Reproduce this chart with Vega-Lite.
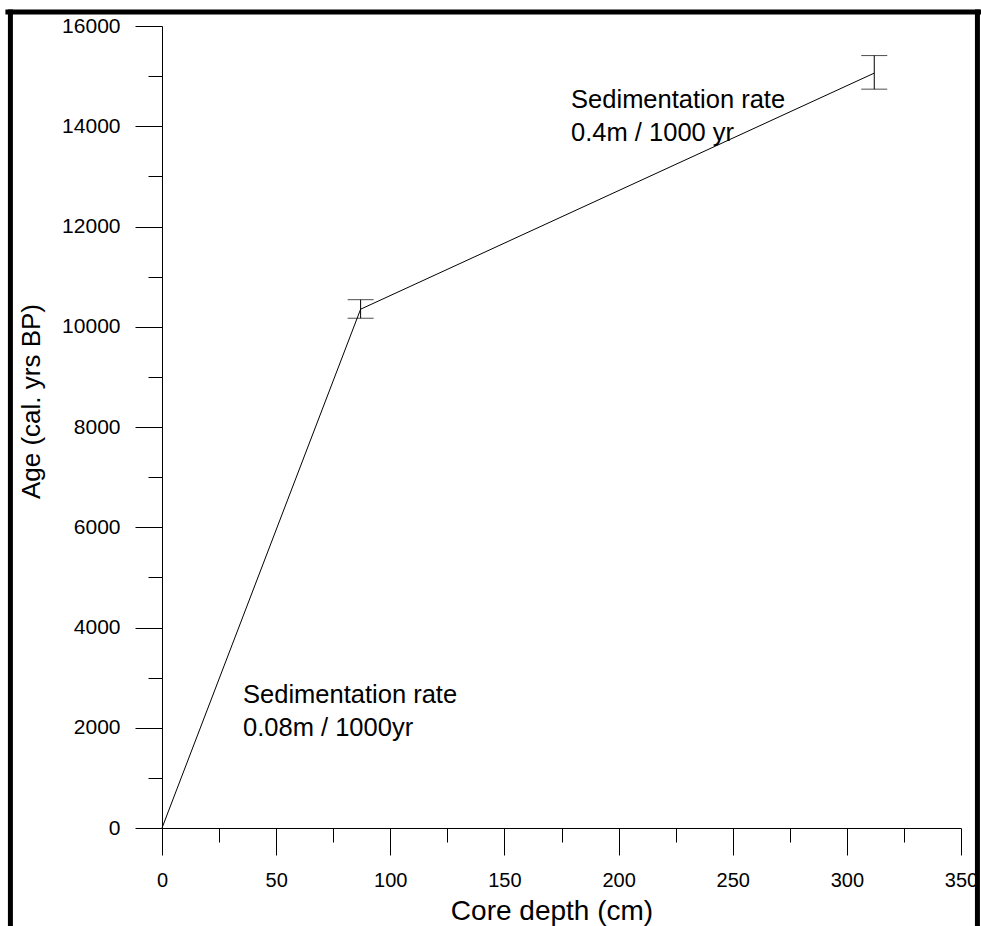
{
  "$schema": "https://vega.github.io/schema/vega-lite/v6.json",
  "width": 799,
  "height": 802,
  "autosize": {"type": "none"},
  "padding": {"left": 162, "top": 26, "right": 20, "bottom": 98},
  "background": "white",
  "config": {
    "view": {"stroke": null},
    "font": "Liberation Sans",
    "axis": {"grid": false, "domainColor": "black", "tickColor": "black", "labelColor": "black", "titleColor": "black", "labelFlush": false, "labelOverlap": false, "tickWidth": 1, "domainWidth": 1}
  },
  "datasets": {
    "points": [
      {"depth": 0, "age": 0},
      {"depth": 87, "age": 10350},
      {"depth": 312, "age": 15060}
    ],
    "errors": [
      {"depth": 87, "lo": 10170, "hi": 10540},
      {"depth": 312, "lo": 14740, "hi": 15410}
    ],
    "notes": [
      {"depth": 35.5, "age": 2653, "label": "Sedimentation rate"},
      {"depth": 35.5, "age": 1995, "label": "0.08m / 1000yr"},
      {"depth": 179.2, "age": 14524, "label": "Sedimentation rate"},
      {"depth": 179.2, "age": 13865, "label": "0.4m / 1000 yr"}
    ],
    "frame": [
      {"x1": -67.5, "x2": 358.3, "y1": 16279, "y2": 16279},
      {"x1": -66.4, "x2": -66.4, "y1": 16279, "y2": -2100},
      {"x1": 357.2, "x2": 357.2, "y1": 16279, "y2": -2100}
    ]
  },
  "layer": [
    {
      "data": {"name": "points"},
      "mark": {"type": "line", "color": "black", "strokeWidth": 1},
      "encoding": {
        "x": {"field": "depth", "type": "quantitative", "scale": {"domain": [0, 350], "nice": false, "zero": false},
          "axis": {"values": [0, 50, 100, 150, 200, 250, 300, 350], "format": "d", "tickSize": 27, "labelFontSize": 20, "labelPadding": 15,
            "title": "Core depth (cm)", "titleFontSize": 28, "titleFontWeight": "normal", "titleX": 389.5, "titleY": 91, "titleBaseline": "alphabetic", "titleAnchor": "middle"}},
        "y": {"field": "age", "type": "quantitative", "scale": {"domain": [0, 16000], "nice": false, "zero": false},
          "axis": {"values": [0, 2000, 4000, 6000, 8000, 10000, 12000, 14000, 16000], "format": "d", "tickSize": 27, "labelFontSize": 21, "labelPadding": 15,
            "title": "Age (cal. yrs BP)", "titleFontSize": 26, "titleFontWeight": "normal", "titleAngle": -90, "titleX": -123, "titleY": 375, "titleBaseline": "alphabetic", "titleAnchor": "middle"}}
      }
    },
    {
      "data": {"name": "points"},
      "mark": {"type": "point", "opacity": 0},
      "encoding": {
        "x": {"field": "depth", "type": "quantitative",
          "axis": {"orient": "bottom", "values": [25, 75, 125, 175, 225, 275, 325], "tickSize": 14, "labels": false, "domain": false, "title": null}},
        "y": {"field": "age", "type": "quantitative",
          "axis": {"orient": "left", "values": [1000, 3000, 5000, 7000, 9000, 11000, 13000, 15000], "tickSize": 14, "labels": false, "domain": false, "title": null}}
      }
    },
    {
      "data": {"name": "errors"},
      "mark": {"type": "rule", "color": "black", "strokeWidth": 1},
      "encoding": {
        "x": {"field": "depth", "type": "quantitative", "axis": null},
        "y": {"field": "lo", "type": "quantitative", "axis": null},
        "y2": {"field": "hi"}
      }
    },
    {
      "data": {"name": "errors"},
      "mark": {"type": "tick", "orient": "horizontal", "color": "black", "size": 26, "thickness": 1},
      "encoding": {
        "x": {"field": "depth", "type": "quantitative", "axis": null},
        "y": {"field": "lo", "type": "quantitative", "axis": null}
      }
    },
    {
      "data": {"name": "errors"},
      "mark": {"type": "tick", "orient": "horizontal", "color": "black", "size": 26, "thickness": 1},
      "encoding": {
        "x": {"field": "depth", "type": "quantitative", "axis": null},
        "y": {"field": "hi", "type": "quantitative", "axis": null}
      }
    },
    {
      "data": {"name": "notes"},
      "mark": {"type": "text", "align": "left", "baseline": "middle", "fontSize": 25.5, "color": "black", "font": "Liberation Sans"},
      "encoding": {
        "x": {"field": "depth", "type": "quantitative", "axis": null},
        "y": {"field": "age", "type": "quantitative", "axis": null},
        "text": {"field": "label"}
      }
    },
    {
      "data": {"name": "frame"},
      "mark": {"type": "rule", "color": "black", "strokeWidth": 5, "strokeCap": "square"},
      "encoding": {
        "x": {"field": "x1", "type": "quantitative", "axis": null},
        "x2": {"field": "x2"},
        "y": {"field": "y1", "type": "quantitative", "axis": null},
        "y2": {"field": "y2"}
      }
    }
  ],
  "resolve": {"axis": {"x": "independent", "y": "independent"}}
}
